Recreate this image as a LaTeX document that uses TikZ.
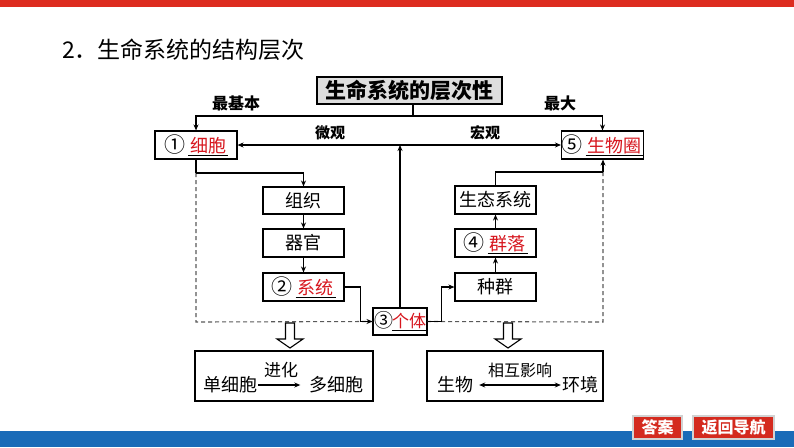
\documentclass[tikz,border=0pt]{standalone}
\usepackage{fontspec}
\setmainfont{Noto Sans CJK SC}
\usetikzlibrary{arrows.meta}
\definecolor{ansred}{HTML}{D7161E}
\definecolor{barred}{HTML}{DD2C1F}
\definecolor{barblue}{HTML}{1A6BB8}
\definecolor{btnred}{HTML}{D42A1E}
\definecolor{hdgray}{HTML}{DEDEDE}
\newcommand\fsz[1]{\fontsize{#1}{#1}\selectfont}
\newcommand\ansu[1]{\underline{\hspace{2pt}\textcolor{ansred}{#1}\hspace{2pt}}}
\newcommand\cnum[1]{{\fsz{21}#1}}
\begin{document}
\begin{tikzpicture}[x=1pt,y=-1pt,
  bx/.style={draw,line width=1.1pt,fill=white,inner sep=0pt,minimum width=81pt,minimum height=28pt,font=\fsz{18}},
  ln/.style={line width=1.1pt},
  arr/.style={ln,-{Stealth[length=6pt,width=5pt]}},
  darr/.style={ln,{Stealth[length=6pt,width=5pt]}-{Stealth[length=6pt,width=5pt]}},
  dsh/.style={line width=1.1pt,draw=black!65,dash pattern=on 4pt off 3pt},
  lbl/.style={font=\fsz{16}\bfseries,inner sep=1pt},
  txt/.style={font=\fsz{18},inner sep=1pt},
  btn/.style={fill=btnred,draw=gray!35,line width=1.2pt,minimum height=23pt,inner sep=0pt,text=white,font=\fsz{16}\bfseries}
  ]
\useasboundingbox (0,0) rectangle (794,447);
\fill[barred] (0,0) rectangle (794,7);
\fill[barblue] (0,431) rectangle (794,447);

\node[anchor=west,font=\fsz{23},inner sep=0pt] (title) at (62,50) {2．生命系统的结构层次};

% header
\node[draw,line width=1.1pt,fill=hdgray,minimum width=185pt,minimum height=27pt,inner sep=0pt,font=\fsz{21}\bfseries] (hd) at (409.5,90.5) {生命系统的层次性};
\node[lbl] (lzjb) at (236,103) {最基本};
\node[lbl] (lzd) at (560,103) {最大};
\node[lbl,font=\fsz{15}\bfseries] (lwg) at (330,133) {微观};
\node[lbl,font=\fsz{15}\bfseries] (lhg) at (485,133) {宏观};

% main boxes
\node[bx,minimum width=82pt] (b1) at (196,145) {\cnum{①}\,\ansu{细胞}};
\node[bx] (b5) at (602.5,145) {\cnum{⑤}\,\ansu{生物圈}};
\node[bx,minimum height=27pt] (zz) at (303.5,200.5) {组织};
\node[bx] (qg) at (303.5,243) {器官};
\node[bx] (xt) at (303.5,287) {\cnum{②}\,\ansu{系统}};
\node[bx] (st) at (495.5,200) {生态系统};
\node[bx] (ql) at (495.5,243) {\cnum{④}\,\ansu{群落}};
\node[bx] (zq) at (495.5,287) {种群};
\node[bx,minimum width=54pt,minimum height=27pt] (gt) at (400,321.5) {{\fsz{19}③}\hspace{-1pt}\underline{\textcolor{ansred}{\fsz{17}个体}}};

% coordinates
\coordinate (hs) at (413,116);
\coordinate (c1) at (196,173);
\coordinate (c2) at (196,322);
\coordinate (c3) at (603,172);
\coordinate (c4) at (603,322);

% dashed frame
\draw[dsh] (c1) -- (c2) -- (gt.west);
\draw[dsh] (c3) -- (c4) -- (gt.east);

% connectors
\draw[ln] (hd.south -| hs) -- (hs);
\draw[arr] (hs) -| (b1.north);
\draw[arr] (hs) -| (b5.north);
\draw[darr] (b1.east) -- (b5.west);
\draw[arr] (gt.north) -- (gt.north |- b1.east);
\draw[ln] (b1.south) -- (c1);
\draw[arr] (c1) -| (zz.north);
\draw[arr] (zz.south) -- (qg.north);
\draw[arr] (qg.south) -- (xt.north);
\draw[arr] (xt.east) -- ++(16,0) |- (gt.west);
\draw[arr] (gt.east) -- ++(14,0) |- (zq.west);
\draw[arr] (zq.north) -- (ql.south);
\draw[arr] (ql.north) -- (st.south);
\draw[ln] (st.north) |- (c3);
\draw[arr] (c3) -- (b5.south -| c3);

% hollow arrows
\draw[ln,fill=white] (285.5,323) -- (294.5,323) -- (294.5,339) -- (303,339) -- (290,348) -- (277,339) -- (285.5,339) -- cycle;
\draw[ln,fill=white] (503.5,323) -- (512.5,323) -- (512.5,339) -- (521,339) -- (508,348) -- (495,339) -- (503.5,339) -- cycle;

% bottom boxes
\node[draw,line width=1.1pt,minimum width=178pt,minimum height=50pt,inner sep=0pt] (bl) at (284,376) {};
\node[draw,line width=1.1pt,minimum width=176pt,minimum height=50pt,inner sep=0pt] (br) at (515,376) {};
\node[txt] (dx) at (230,385) {单细胞};
\node[txt] (dx2) at (336.5,385) {多细胞};
\draw[arr,shorten >=8pt] (dx.east) -- (dx2.west);
\node[txt,font=\fsz{17}] (jh) at (281,370) {进化};
\node[txt] (sw) at (455,385) {生物};
\node[txt] (hj) at (580,385) {环境};
\draw[darr,shorten <=5pt] (sw.east) -- (hj.west);
\node[txt,font=\fsz{16}] (xh) at (520,370) {相互影响};

% buttons
\node[btn,minimum width=49pt] (da) at (657.5,427.5) {答案};
\node[btn,minimum width=81pt] (fh) at (733.5,427.5) {返回导航};
\end{tikzpicture}
\end{document}
